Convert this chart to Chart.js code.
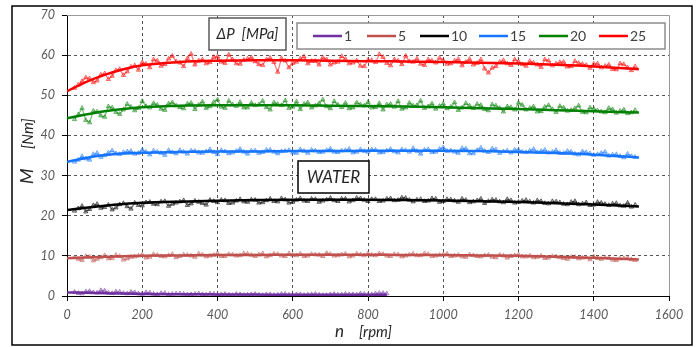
<!DOCTYPE html>
<html>
<head>
<meta charset="utf-8">
<title>M vs n - WATER</title>
<script src="https://cdn.jsdelivr.net/npm/chart.js"></script>
<style>
  html, body { margin: 0; padding: 0; background: #fff; }
  canvas { display: block; }
</style>
</head>
<body>
<canvas id="myChart" width="700" height="347"></canvas>
<script>
// measured speeds (rpm), two interleaved sweeps
const rpm = [20, 40, 60, 80, 100, 120, 140, 160, 180, 200, 220, 240, 260, 280, 300, 320, 340, 360, 380, 400,
  420, 440, 460, 480, 500, 520, 540, 560, 580, 600, 620, 640, 660, 680, 700, 720, 740, 760, 780, 800,
  820, 840, 860, 880, 900, 920, 940, 960, 980, 1000, 1020, 1040, 1060, 1080, 1100, 1120, 1140, 1160, 1180, 1200,
  1220, 1240, 1260, 1280, 1300, 1320, 1340, 1360, 1380, 1400, 1420, 1440, 1460, 1480, 1500]
const rpmB = [30, 50, 70, 90, 110, 130, 150, 170, 190, 210, 230, 250, 270, 290, 310, 330, 350, 370, 390, 410,
  430, 450, 470, 490, 510, 530, 550, 570, 590, 610, 630, 650, 670, 690, 710, 730, 750, 770, 790, 810,
  830, 850, 870, 890, 910, 930, 950, 970, 990, 1010, 1030, 1050, 1070, 1090, 1110, 1130, 1150, 1170, 1190, 1210,
  1230, 1250, 1270, 1290, 1310, 1330, 1350, 1370, 1390, 1410, 1430, 1450, 1470, 1490, 1510]
const rpmLow = [20, 40, 60, 80, 100, 120, 140, 160, 180, 200, 220, 240, 260, 280, 300, 320, 340, 360, 380, 400,
  420, 440, 460, 480, 500, 520, 540, 560, 580, 600, 620, 640, 660, 680, 700, 720, 740, 760, 780, 800, 820, 840]
const rpmLowB = [30, 50, 70, 90, 110, 130, 150, 170, 190, 210, 230, 250, 270, 290, 310, 330, 350, 370, 390, 410,
  430, 450, 470, 490, 510, 530, 550, 570, 590, 610, 630, 650, 670, 690, 710, 730, 750, 770, 790, 810, 830, 850]

// measured torque M [Nm] for each pressure drop
const m1 = [1.0, 0.6, 1.2, 0.8, 1.3, 0.7, 1.0, 0.6, 0.9, 0.5, 0.8, 0.4, 0.7, 0.5, 0.6, 0.3, 0.5, 0.4, 0.6, 0.3,
  0.5, 0.2, 0.4, 0.3, 0.5, 0.2, 0.4, 0.3, 0.5, 0.2, 0.4, 0.3, 0.5, 0.2, 0.4, 0.3, 0.5, 0.4, 0.6, 0.3, 0.6, 0.7]
const m1b = [0.7, 1.1, 0.9, 1.4, 0.8, 1.1, 0.7, 1.0, 0.6, 0.9, 0.5, 0.7, 0.4, 0.6, 0.5, 0.4, 0.6, 0.3, 0.5, 0.4,
  0.3, 0.5, 0.2, 0.4, 0.3, 0.4, 0.2, 0.5, 0.3, 0.4, 0.2, 0.4, 0.3, 0.2, 0.5, 0.3, 0.4, 0.3, 0.5, 0.4, 0.7, 0.6]
const m5 = [9.6, 8.9, 9.8, 9.2, 10.1, 9.4, 9.9, 9.3, 9.8, 10.3, 9.7, 10.2, 9.8, 10.4, 9.9, 10.2, 9.7, 10.3, 10.0, 10.6,
  9.9, 10.3, 10.1, 10.5, 9.9, 10.6, 10.1, 10.4, 9.9, 10.2, 10.5, 10.0, 10.3, 9.9, 10.4, 10.1, 10.5, 10.0, 10.3, 10.6,
  10.1, 10.4, 9.9, 10.3, 10.0, 10.5, 10.1, 10.4, 10.0, 10.3, 9.9, 10.2, 9.7, 10.1, 9.8, 10.2, 9.6, 10.0, 9.9, 10.3,
  9.8, 9.6, 10.0, 9.5, 9.8, 9.4, 9.7, 9.3, 9.6, 9.8, 9.2, 9.5, 8.9, 9.4, 9.1]
const m5b = [9.2, 9.9, 8.8, 9.6, 9.3, 10.2, 9.0, 9.7, 10.0, 9.5, 10.4, 9.9, 10.1, 9.6, 10.3, 10.0, 10.5, 9.8, 10.2, 9.9,
  10.4, 10.0, 10.6, 10.2, 10.3, 9.8, 10.5, 10.0, 10.6, 10.1, 9.9, 10.4, 10.2, 10.7, 10.0, 10.3, 9.8, 10.5, 10.1, 10.2,
  10.6, 10.0, 10.4, 9.8, 10.3, 10.1, 10.6, 9.9, 10.2, 10.5, 10.0, 9.8, 10.3, 9.9, 10.1, 9.7, 10.2, 9.5, 10.1, 9.8,
  10.0, 9.7, 9.4, 9.9, 9.6, 9.2, 9.7, 9.5, 9.1, 9.4, 9.6, 9.0, 9.3, 9.5, 8.9]
const m10 = [21.2, 22.4, 21.6, 22.9, 22.1, 21.5, 22.8, 22.3, 23.2, 22.5, 23.4, 22.8, 23.6, 22.9, 23.5, 22.6, 23.7, 23.1, 23.9, 23.3,
  23.8, 23.2, 24.1, 23.4, 23.9, 23.3, 24.2, 23.5, 24.0, 23.4, 24.3, 23.6, 24.1, 23.7, 24.4, 23.6, 24.2, 23.8, 24.3, 23.6,
  24.1, 23.7, 24.3, 23.9, 24.4, 23.5, 24.1, 23.7, 24.2, 23.6, 24.0, 23.4, 23.9, 23.5, 24.2, 23.6, 23.9, 23.3, 23.8, 23.4,
  23.9, 23.2, 23.6, 23.0, 23.5, 22.9, 23.4, 22.8, 23.3, 22.7, 23.2, 22.6, 23.1, 22.4, 22.2]
const m10b = [21.8, 21.0, 22.6, 21.9, 22.7, 22.0, 23.1, 21.7, 22.6, 23.3, 22.9, 23.5, 22.4, 23.2, 23.8, 23.0, 23.4, 22.7, 23.6, 23.9,
  23.1, 23.7, 23.5, 24.0, 23.2, 23.8, 23.6, 24.3, 23.2, 23.9, 23.7, 24.2, 23.4, 24.0, 23.8, 24.2, 23.5, 24.4, 23.9, 24.1,
  23.6, 24.2, 23.8, 24.5, 23.9, 24.0, 23.6, 24.3, 23.4, 24.1, 23.7, 24.2, 23.3, 23.8, 23.1, 24.0, 23.5, 24.1, 23.2, 23.7,
  23.5, 23.8, 23.1, 23.6, 23.3, 22.8, 23.6, 23.0, 22.6, 23.4, 22.9, 23.0, 22.5, 23.2, 22.7]
const m15 = [33.4, 34.8, 33.9, 35.6, 35.0, 36.2, 35.3, 36.0, 35.4, 36.4, 35.2, 35.9, 35.1, 35.8, 36.3, 35.4, 36.1, 35.6, 36.5, 35.3,
  36.0, 35.7, 36.6, 35.4, 36.2, 35.8, 36.4, 35.5, 36.1, 35.7, 36.5, 35.6, 36.2, 35.9, 36.7, 35.8, 36.3, 35.7, 36.5, 35.9,
  36.4, 35.8, 36.6, 35.7, 36.3, 36.8, 35.4, 36.5, 35.9, 37.0, 36.2, 35.6, 36.7, 35.5, 36.9, 35.8, 36.5, 36.0, 35.7, 36.4,
  35.8, 36.6, 36.1, 35.7, 36.3, 35.6, 35.9, 35.2, 35.8, 35.1, 35.6, 34.9, 35.3, 34.5, 34.8]
const m15b = [33.9, 34.2, 35.3, 34.6, 35.7, 35.5, 35.8, 36.1, 35.6, 35.9, 36.2, 35.6, 36.3, 35.5, 35.9, 36.2, 35.7, 36.0, 35.8, 36.3,
  35.5, 36.1, 35.9, 36.2, 35.6, 36.4, 35.9, 36.0, 36.3, 35.6, 36.1, 36.4, 35.8, 36.3, 35.9, 36.2, 36.6, 35.9, 36.1, 36.5,
  35.7, 36.2, 36.0, 36.5, 35.9, 36.1, 36.4, 35.8, 36.6, 36.1, 35.9, 36.8, 35.5, 36.3, 36.1, 36.7, 35.6, 36.2, 36.4, 35.9,
  36.2, 35.8, 36.4, 35.9, 35.6, 36.1, 35.4, 36.0, 35.5, 35.3, 35.9, 35.2, 34.8, 35.4, 34.6]
const m20 = [44.0, 46.8, 43.2, 45.9, 44.6, 46.9, 45.3, 47.8, 46.2, 48.5, 46.9, 47.6, 46.3, 48.2, 47.0, 47.9, 46.5, 48.4, 47.2, 48.9,
  46.8, 47.7, 48.3, 46.9, 47.5, 48.6, 46.4, 47.8, 48.7, 47.1, 46.5, 48.2, 47.4, 48.9, 46.7, 47.6, 48.1, 46.9, 47.7, 48.3,
  47.0, 46.4, 47.8, 48.5, 46.9, 47.4, 48.6, 47.2, 46.6, 47.9, 47.1, 46.3, 48.0, 46.8, 47.5, 46.2, 47.4, 45.9, 47.0, 48.1,
  46.4, 47.2, 46.0, 47.5, 45.8, 46.9, 46.3, 47.4, 45.7, 46.6, 45.9, 46.8, 45.6, 46.4, 45.7]
const m20b = [45.2, 43.8, 46.1, 44.9, 47.2, 45.8, 46.4, 47.1, 46.8, 47.3, 48.0, 46.6, 47.9, 47.4, 46.7, 48.1, 47.6, 46.8, 48.3, 47.1,
  48.6, 47.3, 46.9, 48.1, 47.7, 47.0, 48.2, 47.5, 46.8, 48.4, 47.8, 46.9, 48.0, 47.2, 48.5, 47.0, 46.7, 48.2, 47.4, 46.9,
  48.0, 47.7, 47.1, 46.6, 48.1, 47.5, 46.8, 47.9, 47.3, 46.7, 48.2, 46.9, 47.4, 47.8, 46.5, 47.7, 46.8, 47.2, 46.4, 47.6,
  46.8, 45.9, 47.1, 46.5, 47.3, 46.1, 46.7, 45.8, 46.9, 46.2, 45.7, 46.5, 46.1, 45.5, 46.3]
const m25 = [51.8, 53.5, 54.2, 53.6, 55.4, 54.8, 56.5, 55.9, 57.4, 58.2, 56.9, 58.6, 57.7, 59.8, 58.1, 59.2, 57.6, 58.9, 58.2, 59.6,
  58.0, 58.9, 57.8, 59.1, 58.4, 57.5, 59.3, 55.8, 58.6, 58.0, 59.1, 57.9, 58.5, 59.4, 57.6, 58.3, 59.0, 58.1, 57.3, 58.8,
  58.2, 59.5, 57.4, 58.6, 59.8, 58.3, 57.8, 58.9, 58.1, 58.7, 57.9, 59.0, 58.3, 57.6, 58.9, 55.6, 57.2, 58.7, 57.5, 58.4,
  57.3, 58.1, 57.0, 58.6, 57.9, 58.3, 57.2, 58.0, 57.5, 57.8, 56.9, 57.6, 56.4, 57.7, 56.2]
const m25b = [52.6, 54.4, 53.2, 55.1, 54.0, 56.2, 55.0, 57.1, 56.3, 57.8, 58.9, 57.3, 59.1, 58.4, 57.2, 60.3, 58.6, 57.9, 59.5, 58.3,
  60.1, 57.9, 58.8, 59.4, 57.7, 58.9, 58.2, 59.2, 56.9, 58.3, 59.6, 58.5, 57.6, 58.9, 58.1, 59.7, 57.9, 58.6, 57.2, 58.7,
  60.2, 58.0, 58.9, 57.7, 58.4, 59.1, 57.5, 58.6, 59.3, 57.8, 58.6, 57.4, 59.0, 58.0, 56.6, 56.8, 58.3, 57.9, 58.9, 57.7,
  58.5, 57.6, 58.9, 57.4, 58.2, 57.1, 58.5, 57.8, 56.8, 57.9, 57.3, 56.5, 57.9, 56.9, 57.2]

// fitted trend lines
const fitRpm = [0, 50, 100, 150, 200, 300, 400, 500, 600, 700, 800, 900, 1000, 1100, 1200, 1300, 1400, 1520]
const fitRpmLow = [0, 50, 100, 150, 200, 300, 400, 500, 600, 700, 800, 850]
const fit1 = [0.9, 0.8, 0.7, 0.6, 0.5, 0.45, 0.4, 0.35, 0.3, 0.3, 0.3, 0.3]
const fit5 = [9.4, 9.6, 9.8, 9.9, 10.0, 10.1, 10.2, 10.2, 10.3, 10.3, 10.3, 10.2, 10.2, 10.1, 10.0, 9.8, 9.5, 9.1]
const fit10 = [21.4, 22.0, 22.5, 22.9, 23.2, 23.5, 23.7, 23.9, 24.0, 24.0, 24.0, 23.9, 23.8, 23.6, 23.4, 23.1, 22.8, 22.3]
const fit15 = [33.4, 34.4, 35.1, 35.5, 35.7, 35.9, 36.0, 36.0, 36.1, 36.1, 36.2, 36.2, 36.2, 36.1, 35.9, 35.6, 35.2, 34.5]
const fit20 = [44.3, 45.2, 46.0, 46.6, 47.0, 47.4, 47.5, 47.5, 47.5, 47.4, 47.3, 47.2, 47.0, 46.8, 46.6, 46.3, 46.0, 45.7]
const fit25 = [51.0, 53.3, 55.1, 56.5, 57.5, 58.3, 58.6, 58.7, 58.7, 58.6, 58.5, 58.4, 58.3, 58.1, 57.9, 57.6, 57.2, 56.5]

const pressures = ['1', '5', '10', '15', '20', '25']
const colors = ['#7030A0', '#C0504D', '#000000', '#1674FF', '#008000', '#FF0000']

const series = [
  { xs: rpmLow, ys: m1, xs2: rpmLowB, ys2: m1b, fx: fitRpmLow, fy: fit1 },
  { xs: rpm, ys: m5, xs2: rpmB, ys2: m5b, fx: fitRpm, fy: fit5 },
  { xs: rpm, ys: m10, xs2: rpmB, ys2: m10b, fx: fitRpm, fy: fit10 },
  { xs: rpm, ys: m15, xs2: rpmB, ys2: m15b, fx: fitRpm, fy: fit15 },
  { xs: rpm, ys: m20, xs2: rpmB, ys2: m20b, fx: fitRpm, fy: fit20 },
  { xs: rpm, ys: m25, xs2: rpmB, ys2: m25b, fx: fitRpm, fy: fit25 }
]

function toPoints (xs, ys) {
  return ys.map((y, i) => ({ x: xs[i], y }))
}
function alpha (hex, a) {
  const n = parseInt(hex.slice(1), 16)
  return `rgba(${(n >> 16) & 255}, ${(n >> 8) & 255}, ${n & 255}, ${a})`
}

const datasets = []
series.forEach((s, i) => {
  // measured points, both sweeps merged in rpm order
  const pts = toPoints(s.xs, s.ys).concat(toPoints(s.xs2, s.ys2)).sort((p, q) => p.x - q.x)
  datasets.push({
    label: pressures[i] + ' data',
    data: pts,
    showLine: true,
    borderColor: alpha(colors[i], 0.55),
    borderWidth: 1.2,
    pointStyle: 'triangle',
    pointRadius: 2.5,
    pointBorderWidth: 1,
    pointBorderColor: alpha(colors[i], 0.55),
    pointBackgroundColor: alpha(colors[i], 0.2),
    order: 2
  })
  // trend line
  datasets.push({
    label: pressures[i],
    data: toPoints(s.fx, s.fy),
    showLine: true,
    borderColor: colors[i],
    borderWidth: 2.5,
    pointRadius: 0,
    cubicInterpolationMode: 'monotone',
    order: 1
  })
})

const font = 'Lato, "Open Sans", sans-serif'

// boxes, legend, axis titles, frames
const overlay = {
  id: 'overlay',
  afterDraw (chart) {
    const ctx = chart.ctx
    const a = chart.chartArea
    ctx.save()

    // plot area top / right border
    ctx.strokeStyle = '#9a9a9a'
    ctx.lineWidth = 1
    ctx.beginPath()
    ctx.moveTo(a.left, a.top + 0.5)
    ctx.lineTo(a.right + 0.5, a.top + 0.5)
    ctx.lineTo(a.right + 0.5, a.bottom)
    ctx.stroke()

    // outer frame
    ctx.strokeStyle = '#000'
    ctx.lineWidth = 1.5
    ctx.strokeRect(12, 6, 680, 339)

    // ΔP label box
    ctx.fillStyle = '#fff'
    ctx.fillRect(209, 18, 77, 32)
    ctx.strokeStyle = '#595959'
    ctx.lineWidth = 1.5
    ctx.strokeRect(209, 18, 77, 32)
    ctx.fillStyle = '#262626'
    ctx.font = 'italic 15px ' + font
    ctx.textAlign = 'center'
    ctx.textBaseline = 'middle'
    ctx.fillText('\u0394P  [MPa]', 247.5, 34.5)

    // legend box
    ctx.fillStyle = '#fff'
    ctx.fillRect(297, 23, 368, 26)
    ctx.strokeStyle = '#8c8c8c'
    ctx.lineWidth = 1.5
    ctx.strokeRect(297, 23, 368, 26)
    const lx = [313, 367, 420, 479, 539, 599]
    ctx.font = '14px ' + font
    ctx.textAlign = 'left'
    pressures.forEach((p, i) => {
      ctx.strokeStyle = colors[i]
      ctx.lineWidth = 2.5
      ctx.beginPath()
      ctx.moveTo(lx[i], 36)
      ctx.lineTo(lx[i] + 29, 36)
      ctx.stroke()
      ctx.fillStyle = '#404040'
      ctx.fillText(p, lx[i] + 31, 36.5)
    })

    // WATER box
    ctx.fillStyle = '#fff'
    ctx.fillRect(298, 161, 71, 32)
    ctx.strokeStyle = '#000'
    ctx.lineWidth = 1.5
    ctx.strokeRect(298, 161, 71, 32)
    ctx.fillStyle = '#262626'
    ctx.font = 'italic 17px ' + font
    ctx.textAlign = 'center'
    ctx.fillText('WATER', 333.5, 177.5)

    // axis titles
    ctx.fillStyle = '#262626'
    ctx.textAlign = 'left'
    ctx.textBaseline = 'alphabetic'
    ctx.font = 'italic 17px ' + font
    ctx.fillText('n', 335, 337)
    ctx.font = 'italic 15px ' + font
    ctx.fillText('[rpm]', 359, 337)

    ctx.translate(33, 184)
    ctx.rotate(-Math.PI / 2)
    ctx.font = 'italic 18px ' + font
    ctx.fillText('M', 0, 0)
    ctx.font = 'italic 15px ' + font
    ctx.fillText('[Nm]', 35, 0)

    ctx.restore()
  }
}

const tickFont = { family: font, size: 12.5, style: 'italic' }

new Chart(document.getElementById('myChart'), {
  type: 'scatter',
  data: { datasets },
  options: {
    responsive: false,
    animation: false,
    events: [],
    layout: { padding: { top: 15, right: 31, left: 0, bottom: 0 } },
    plugins: { legend: { display: false }, tooltip: { enabled: false } },
    scales: {
      x: {
        type: 'linear',
        min: 0,
        max: 1600,
        ticks: { stepSize: 200, color: '#595959', font: tickFont, padding: 6, maxRotation: 0, callback: v => String(v) },
        grid: {
          color: c => (c.tick && (c.tick.value === 0 || c.tick.value === 1600)) ? 'rgba(0,0,0,0)' : '#555',
          tickColor: '#000',
          tickLength: 5,
          tickBorderDash: []
        },
        border: { color: '#000', width: 1, dash: [3, 3] },
        afterFit (scale) { scale.height = 51 }
      },
      y: {
        type: 'linear',
        min: 0,
        max: 70,
        ticks: { stepSize: 10, color: '#595959', font: tickFont, padding: 7, callback: v => String(v) },
        grid: {
          color: c => (c.tick && (c.tick.value === 0 || c.tick.value === 70)) ? 'rgba(0,0,0,0)' : '#555',
          tickColor: '#000',
          tickLength: 5,
          tickBorderDash: []
        },
        border: { color: '#000', width: 1, dash: [3, 3] },
        afterFit (scale) { scale.width = 67 }
      }
    }
  },
  plugins: [overlay]
})
</script>
</body>
</html>
